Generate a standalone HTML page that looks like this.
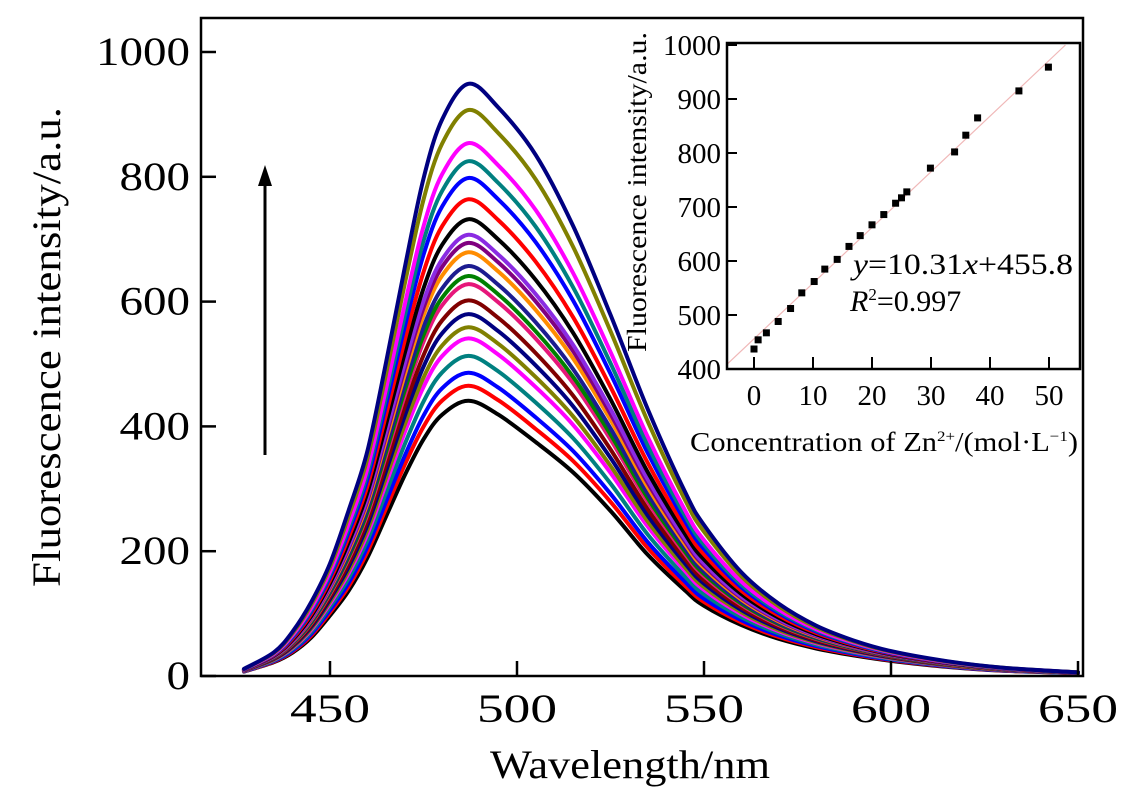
<!DOCTYPE html>
<html><head><meta charset="utf-8"><style>
body{margin:0;background:#fff;}
svg{display:block;font-family:"Liberation Serif",serif;}
</style></head><body>
<svg id="chart" width="1148" height="787" viewBox="0 0 1148 787" xmlns="http://www.w3.org/2000/svg">
<rect x="0" y="0" width="1148" height="787" fill="#fff"/>
<g id="curves"></g>
<g id="mainAxes"></g>
<line x1="265" y1="455" x2="265" y2="180" stroke="#000" stroke-width="3"/>
<polygon points="265,165 258,186 272,186" fill="#000"/>
<text x="630" y="778" font-size="40" text-anchor="middle" textLength="280" lengthAdjust="spacingAndGlyphs">Wavelength/nm</text>
<text transform="translate(60,347) rotate(-90)" font-size="40" text-anchor="middle" textLength="480" lengthAdjust="spacingAndGlyphs">Fluorescence intensity/a.u.</text>
<g id="inset"></g>
<text transform="translate(646,192) rotate(-90)" font-size="27" text-anchor="middle" textLength="320" lengthAdjust="spacingAndGlyphs">Fluorescence intensity/a.u.</text>
<text x="690" y="451" font-size="27" textLength="388" lengthAdjust="spacingAndGlyphs">Concentration of Zn<tspan font-size="15" dy="-10">2+</tspan><tspan dy="10">/(mol·L</tspan><tspan font-size="15" dy="-10">−1</tspan><tspan dy="10">)</tspan></text>
<text x="853" y="274" font-size="30" textLength="220" lengthAdjust="spacingAndGlyphs"><tspan font-style="italic">y</tspan>=10.31<tspan font-style="italic">x</tspan>+455.8</text>
<text x="850" y="311" font-size="30"><tspan font-style="italic">R</tspan><tspan font-size="17" dy="-11">2</tspan><tspan dy="11">=0.997</tspan></text>
</svg>
<script>
// Main chart data
const wavelengths = [427,435,440,445,450,455,460,465,470,475,480,487,495,505,515,525,535,545,550,560,570,580,590,600,615,630,650];
const shapeHigh = [.012,.04,.075,.125,.19,.28,.38,.53,.69,.84,.94,1.0,.96,.88,.76,.61,.45,.31,.255,.175,.122,.085,.06,.042,.025,.014,.006];
const shapeLow  = [.016,.05,.085,.14,.22,.31,.43,.58,.73,.86,.95,1.0,.95,.85,.74,.60,.44,.31,.255,.185,.135,.1,.075,.055,.033,.019,.01];
const peakValues = [441,465,486,513,541,559,580,602,628,641,657,679,694,707,732,764,798,825,854,907,949];
const seriesColors = ["#000000","#ff0000","#0000ff","#008080","#ff00ff","#808000","#000080","#800000","#e6177a","#008000","#1c1c90","#ff8c00","#800080","#8a2be2","#000000","#ff0000","#0000ff","#008080","#ff00ff","#808000","#000080"];
const xTicks = [450,500,550,600,650];
const yTicks = [0,200,400,600,800,1000];
// Inset data
const concX = [0,0.7,2.1,4.1,6.2,8.1,10.2,12,14.1,16.1,18,20,22,24,25,25.9,29.9,34,35.9,37.9,44.9,49.9];
const intensityY = [437,454,467,488,512,541,562,585,603,627,647,667,686,707,717,728,772,802,833,865,915,959];
const fitSlope = [10.31];
const fitIntercept = [455.8];
const insetXTicks = [0,10,20,30,40,50];
const insetYTicks = [400,500,600,700,800,900,1000];

const NS="http://www.w3.org/2000/svg";
function mk(tag,attrs,parent,txt){const e=document.createElementNS(NS,tag);for(const k in attrs)e.setAttribute(k,attrs[k]);if(txt!==undefined)e.textContent=txt;parent.appendChild(e);return e;}
const X=w=>330+(w-450)*3.74;
const Y=v=>676-v*0.624;
function smooth(pts){
  let d="M"+pts[0][0].toFixed(1)+","+pts[0][1].toFixed(1);
  for(let i=0;i<pts.length-1;i++){
    const p0=pts[Math.max(0,i-1)],p1=pts[i],p2=pts[i+1],p3=pts[Math.min(pts.length-1,i+2)];
    const c1=[p1[0]+(p2[0]-p0[0])/6,p1[1]+(p2[1]-p0[1])/6];
    const c2=[p2[0]-(p3[0]-p1[0])/6,p2[1]-(p3[1]-p1[1])/6];
    d+=" C"+c1[0].toFixed(1)+","+c1[1].toFixed(1)+" "+c2[0].toFixed(1)+","+c2[1].toFixed(1)+" "+p2[0].toFixed(1)+","+p2[1].toFixed(1);
  }
  return d;
}
const curves=document.getElementById('curves');
const pMin=peakValues[0], pMax=peakValues[peakValues.length-1];
peakValues.forEach((pk,i)=>{
  const t=(pk-pMin)/(pMax-pMin||1);
  const pts=wavelengths.map((w,j)=>[X(w),Y(pk*(shapeHigh[j]*t+shapeLow[j]*(1-t)))]);
  const p=mk('path',{d:smooth(pts),fill:"none",stroke:seriesColors[i%seriesColors.length],"stroke-width":4,"stroke-linejoin":"round","stroke-linecap":"round"},curves);
  
  
});
const ax=document.getElementById('mainAxes');
const fr=mk('rect',{x:201,y:18,width:882,height:658,fill:"none",stroke:"#000","stroke-width":2.5},ax);


xTicks.forEach(v=>{
  const l=mk('line',{x1:X(v),x2:X(v),y1:676,y2:661,stroke:"#000","stroke-width":2.5},ax);
  
  
  const t=mk('text',{x:X(v)-40,y:722,"font-size":40,textLength:80,lengthAdjust:"spacingAndGlyphs"},ax,String(v));
  
  
});
yTicks.forEach(v=>{
  const l=mk('line',{x1:201,x2:216,y1:Y(v),y2:Y(v),stroke:"#000","stroke-width":2.5},ax);
  
  
  const s=String(v);
  const w=s.length*23.5;
  const t=mk('text',{x:190-w,y:Y(v)+13,"font-size":40,textLength:w,lengthAdjust:"spacingAndGlyphs"},ax,s);
  
  
});
// Inset
const ins=document.getElementById('inset');
const IX=c=>754+c*5.9;
const IY=v=>369-(v-400)*0.54;
const xl=-4.6, xr=(1000-fitIntercept[0])/fitSlope[0];
const fl=mk('line',{x1:IX(xl),y1:IY(fitIntercept[0]+fitSlope[0]*xl),x2:IX(xr),y2:IY(fitIntercept[0]+fitSlope[0]*xr),stroke:"#f0b8b8","stroke-width":1.2},ins);


concX.forEach((c,i)=>{
  const r=mk('rect',{x:IX(c)-3.5,y:IY(intensityY[i])-3.5,width:7,height:7,fill:"#000"},ins);
  
  
});
const ifr=mk('rect',{x:727,y:43,width:353,height:326,fill:"none",stroke:"#000","stroke-width":2.5},ins);


insetXTicks.forEach(v=>{
  const l=mk('line',{x1:IX(v),x2:IX(v),y1:369,y2:357,stroke:"#000","stroke-width":2},ins);
  
  
  const t=mk('text',{x:IX(v),y:405,"font-size":29,"text-anchor":"middle"},ins,String(v));
  
  
});
insetYTicks.forEach(v=>{
  const l=mk('line',{x1:727,x2:737,y1:IY(v),y2:IY(v),stroke:"#000","stroke-width":2},ins);
  
  
  const t=mk('text',{x:721,y:IY(v)+10,"font-size":29,"text-anchor":"end"},ins,String(v));
  
  
});
</script>
</body></html>
